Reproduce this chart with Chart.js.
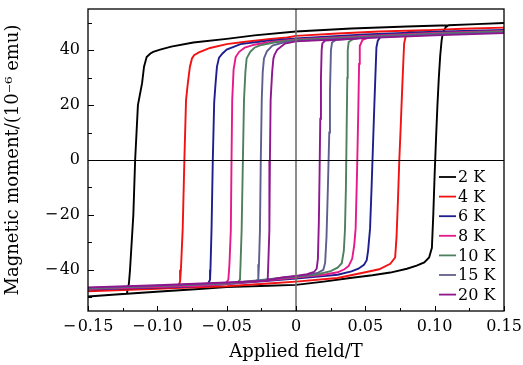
<!DOCTYPE html>
<html><head><meta charset="utf-8">
<script src="https://cdn.jsdelivr.net/npm/chart.js@4.4.0/dist/chart.umd.min.js"></script>
<style>html,body{margin:0;padding:0;background:#fff;}#wrap{width:523px;height:365px;}</style>
</head><body><div id="wrap"><canvas id="c" width="523" height="365"></canvas></div>
<script>
const temperatures = ['2 K', '4 K', '6 K', '8 K', '10 K', '15 K', '20 K'];
const xTickValues = [-0.15, -0.10, -0.05, 0, 0.05, 0.10, 0.15];
const xTickLabels = ['\u2212\u200A0.15', '\u2212\u200A0.10', '\u2212\u200A0.05', '0', '0.05', '0.10', '0.15'];
const xMinorTicks = [-0.125, -0.075, -0.025, 0.025, 0.075, 0.125];
const yTickValues = [-40, -20, 0, 20, 40];
const yTickLabels = ['\u2212\u200A40', '\u2212\u200A20', '0', '20', '40'];
const yMinorTicks = [-50, -30, -10, 10, 30, 50];

// Each loop: descending branch (0.15 -> -0.15) followed by ascending branch (-0.15 -> 0.15)
const field2K = [0.15,0.13,0.11,0.08,0.04,0.00,-0.03,-0.05,-0.074,-0.09,-0.098,-0.103,-0.105,-0.1077,-0.1096,-0.111,-0.114,-0.116,-0.1173,-0.1197,-0.1205,-0.122,-0.13,-0.15,
  -0.15,-0.13,-0.122,-0.098,-0.07,-0.05,-0.02,0.00,0.02,0.039,0.055,0.068,0.08,0.087,0.0925,0.096,0.098,0.099,0.100,0.101,0.102,0.103,0.104,0.105,0.106,0.108,0.11,0.13,0.15];
const moment2K = [49.9,49.5,49.1,48.6,47.9,46.8,45.4,44.1,42.8,41.3,40.2,39.4,38.8,37.5,34,28,20,0,-20,-40,-45,-48.7,-49.0,-49.7,
  -49.7,-49.0,-48.7,-47.9,-47.0,-46.3,-45.8,-45.5,-44.3,-43.0,-42.0,-41.0,-39.6,-38.5,-37.3,-35.5,-32,-20,-5,8,20,30,38,43.5,46.5,48.4,49.1,49.5,49.9];

const field4K = [0.15,0.12,0.10,0.06,0.03,0.00,-0.0065,-0.02,-0.038,-0.05,-0.062,-0.07,-0.0735,-0.075,-0.0765,-0.078,-0.0793,-0.0805,-0.0817,-0.083,-0.0836,-0.0848,-0.087,-0.10,-0.15,
  -0.15,-0.10,-0.087,-0.05,-0.02,0.00,0.03,0.05,0.06,0.068,0.0715,0.0725,0.0735,0.0745,0.0755,0.0765,0.0775,0.078,0.0795,0.083,0.10,0.12,0.15];
const moment4K = [48.2,47.8,47.4,46.8,46.1,45.2,44.6,44.0,43.0,42.2,40.8,39.2,38.2,37.0,34,28,21.8,0,-25,-40,-44.2,-46.0,-46.6,-46.9,-47.8,
  -47.8,-46.9,-46.6,-46.0,-45.0,-44.3,-43.0,-40.9,-39.8,-37.8,-35.5,-28,-15,0,12,25,37,42.5,46.0,47.0,47.4,47.8,48.2];

const field6K = [0.15,0.10,0.05,0.00,-0.021,-0.04,-0.05,-0.053,-0.0555,-0.057,-0.058,-0.059,-0.060,-0.0609,-0.0617,-0.062,-0.064,-0.08,-0.10,-0.15,
  -0.15,-0.10,-0.08,-0.064,-0.05,-0.02,0.00,0.02,0.03,0.04,0.045,0.049,0.051,0.052,0.0534,0.0545,0.0555,0.0565,0.0575,0.058,0.059,0.062,0.08,0.10,0.15];
const moment6K = [47.4,46.7,45.7,44.3,43.4,42.2,40.2,38.8,37.3,34,28,21,0,-25,-40,-43.6,-45.7,-46.2,-46.5,-47.2,
  -47.2,-46.5,-46.2,-45.7,-45.2,-44.0,-43.2,-42.3,-41.8,-40.6,-39.6,-38.2,-36.5,-33,-25,-10,5,20,34,41,43.5,45.6,46.3,46.7,47.4];

const field8K = [0.15,0.10,0.05,0.00,-0.02,-0.03,-0.037,-0.041,-0.0435,-0.045,-0.046,-0.0465,-0.047,-0.048,-0.0488,-0.051,-0.07,-0.10,-0.15,
  -0.15,-0.10,-0.07,-0.051,-0.02,0.00,0.02,0.03,0.035,0.038,0.0405,0.042,0.043,0.044,0.045,0.0455,0.046,0.048,0.055,0.10,0.15];
const moment8K = [47.0,46.3,45.2,43.9,42.9,42.0,40.9,39.4,37.5,33,21.8,0,-25.5,-38,-43.6,-45.2,-45.9,-46.3,-47.0,
  -47.0,-46.3,-45.9,-45.2,-43.8,-42.8,-41.8,-40.9,-39.8,-38.6,-36,-31,-25,-5,20,35,41.5,43.8,45.0,46.3,47.0];

const field10K = [0.15,0.10,0.05,0.00,-0.015,-0.025,-0.03,-0.033,-0.0356,-0.0365,-0.0375,-0.0383,-0.0392,-0.040,-0.0404,-0.042,-0.05,-0.10,-0.15,
  -0.15,-0.10,-0.05,-0.042,-0.02,0.00,0.015,0.025,0.03,0.033,0.0345,0.0353,0.036,0.0365,0.037,0.0373,0.038,0.041,0.05,0.10,0.15];
const moment10K = [46.8,46.0,44.9,43.7,42.9,41.9,40.9,39.4,37.0,32,21.8,0,-25.5,-38,-43.6,-44.6,-45.0,-45.9,-46.8,
  -46.8,-45.9,-45.0,-44.6,-43.4,-42.5,-41.7,-40.5,-39.2,-37.6,-33,-25.5,-10,10,30,40,43,44.0,44.9,46.0,46.8];

const field15K = [0.15,0.10,0.05,0.00,-0.01,-0.017,-0.021,-0.0231,-0.024,-0.0247,-0.0254,-0.026,-0.0267,-0.0272,-0.029,-0.05,-0.10,-0.15,
  -0.15,-0.10,-0.05,-0.029,-0.01,0.00,0.01,0.016,0.0197,0.021,0.022,0.023,0.024,0.0245,0.0252,0.026,0.029,0.05,0.10,0.15];
const moment15K = [46.5,45.7,44.6,43.4,42.7,41.7,39.6,37.0,32,21.8,0,-25.5,-38,-43.6,-44.1,-44.8,-45.8,-46.6,
  -46.6,-45.8,-44.8,-44.1,-42.9,-42.3,-41.8,-41.0,-40.0,-37.5,-28,-10,10,25,40,42.8,43.8,44.6,45.7,46.5];

const field20K = [0.15,0.10,0.05,0.00,-0.008,-0.0135,-0.0155,-0.0163,-0.0172,-0.0183,-0.0188,-0.0192,-0.020,-0.0204,-0.022,-0.05,-0.10,-0.15,
  -0.15,-0.10,-0.05,-0.022,-0.01,0.00,0.008,0.013,0.0149,0.0158,0.0165,0.017,0.0175,0.018,0.0185,0.019,0.021,0.05,0.10,0.15];
const moment20K = [46.2,45.4,44.4,43.2,42.4,40.2,38.3,37.0,32,21.8,0,-25.5,-38,-43.6,-44.0,-44.6,-45.6,-46.4,
  -46.4,-45.6,-44.6,-44.0,-42.8,-42.2,-41.6,-40.8,-39.6,-36,-22,-5,15,30,40,42.5,43.5,44.4,45.4,46.2];

const loops = [
  { field: field2K,  moment: moment2K,  color: '#000000' },
  { field: field4K,  moment: moment4K,  color: '#f21212' },
  { field: field6K,  moment: moment6K,  color: '#1e1e8e' },
  { field: field8K,  moment: moment8K,  color: '#e6198a' },
  { field: field10K, moment: moment10K, color: '#4f7f5e' },
  { field: field15K, moment: moment15K, color: '#5f5f8f' },
  { field: field20K, moment: moment20K, color: '#8e178e' }
];

const tickFont = { family: 'DejaVu Serif', size: 16 };
const titleFont = { family: 'DejaVu Serif', size: 18 };

const overlayPlugin = {
  id: 'overlay',
  afterDatasetsDraw(chart) {
    const { ctx, chartArea: a, scales: { x, y } } = chart;
    ctx.save();
    const x0 = x.getPixelForValue(0);
    ctx.strokeStyle = '#707070'; ctx.lineWidth = 1.6;
    ctx.beginPath(); ctx.moveTo(x0, a.top); ctx.lineTo(x0, a.bottom); ctx.stroke();
    const y0 = Math.round(y.getPixelForValue(0)) + 0.5;
    ctx.strokeStyle = '#000'; ctx.lineWidth = 1;
    ctx.beginPath(); ctx.moveTo(a.left, y0); ctx.lineTo(a.right, y0); ctx.stroke();
    ctx.lineWidth = 1;
    ctx.beginPath();
    xTickValues.forEach(v => { const p = Math.round(x.getPixelForValue(v)) + 0.5; ctx.moveTo(p, a.bottom); ctx.lineTo(p, a.bottom - 5); });
    xMinorTicks.forEach(v => { const p = Math.round(x.getPixelForValue(v)) + 0.5; ctx.moveTo(p, a.bottom); ctx.lineTo(p, a.bottom - 3); });
    yTickValues.forEach(v => { const p = Math.round(y.getPixelForValue(v)) + 0.5; ctx.moveTo(a.left, p); ctx.lineTo(a.left + 6, p); });
    yMinorTicks.forEach(v => { const p = Math.round(y.getPixelForValue(v)) + 0.5; ctx.moveTo(a.left, p); ctx.lineTo(a.left + 4, p); });
    ctx.stroke();
    ctx.lineWidth = 1.3;
    ctx.strokeRect(a.left, a.top, a.right - a.left, a.bottom - a.top);
    ctx.font = '16px "DejaVu Serif"';
    ctx.textBaseline = 'middle';
    ctx.textAlign = 'left';
    chart.data.datasets.forEach((ds, i) => {
      const yy = a.bottom - 134 + i * 19.6;
      ctx.strokeStyle = ds.borderColor; ctx.lineWidth = 1.8;
      ctx.beginPath(); ctx.moveTo(a.right - 65, yy); ctx.lineTo(a.right - 48, yy); ctx.stroke();
      ctx.fillStyle = '#000';
      ctx.fillText(ds.label, a.right - 46, yy + 1);
    });
    ctx.restore();
  }
};

function noPad(s) { s.paddingTop = 0; s.paddingBottom = 0; s.paddingLeft = 0; s.paddingRight = 0; }

new Chart(document.getElementById('c'), {
  type: 'scatter',
  data: {
    datasets: loops.map((l, i) => ({
      label: temperatures[i],
      data: l.field.map((h, j) => ({ x: h, y: l.moment[j] })),
      borderColor: l.color,
      backgroundColor: l.color,
      borderWidth: 1.9,
      showLine: true,
      pointRadius: 0,
      tension: 0,
      fill: false,
      order: loops.length - i
    }))
  },
  options: {
    responsive: false,
    animation: false,
    devicePixelRatio: 1,
    layout: { padding: { top: 9, right: 19, left: 0, bottom: 0 } },
    plugins: { legend: { display: false }, tooltip: { enabled: false } },
    scales: {
      x: {
        type: 'linear', min: -0.15, max: 0.15,
        afterBuildTicks: s => { s.ticks = xTickValues.map(v => ({ value: v })); },
        afterFit: s => { s.height = 54; noPad(s); },
        ticks: { callback: (v, i) => xTickLabels[i], font: tickFont, color: '#000', padding: 6, maxRotation: 0, autoSkip: false },
        grid: { display: false, drawTicks: false },
        border: { display: false },
        title: { display: true, text: 'Applied field/T', font: titleFont, color: '#000', padding: { top: 0, bottom: 2 } }
      },
      y: {
        type: 'linear', min: -55, max: 55,
        afterBuildTicks: s => { s.ticks = yTickValues.map(v => ({ value: v })); },
        afterFit: s => { s.width = 88; noPad(s); },
        ticks: { callback: (v, i) => yTickLabels[i], font: tickFont, color: '#000', padding: 8, autoSkip: false },
        grid: { display: false, drawTicks: false },
        border: { display: false },
        title: { display: true, text: 'Magnetic moment/(10\u207B\u2076 emu)', font: titleFont, color: '#000', padding: { top: 3, bottom: 0 } }
      }
    }
  },
  plugins: [overlayPlugin]
});
</script>
</body></html>
